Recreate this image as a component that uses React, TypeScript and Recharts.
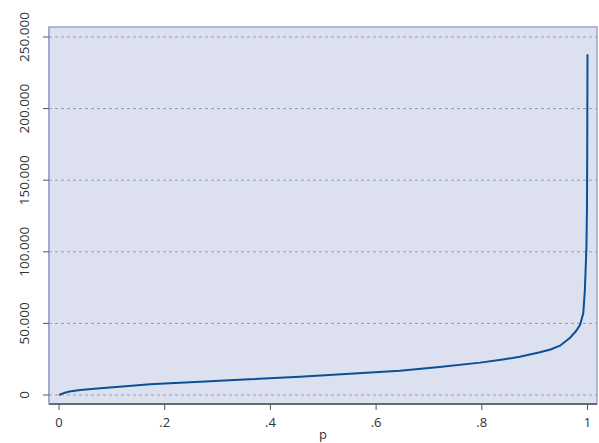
import React from 'react';
import {
  LineChart,
  Line,
  XAxis,
  YAxis,
  CartesianGrid,
  ReferenceArea,
} from 'recharts';

// Quantile curve: share of population (p) vs. income
const pValues = [
  0, 0.005, 0.011, 0.02, 0.04, 0.078, 0.12, 0.172, 0.267, 0.36, 0.456, 0.55,
  0.645, 0.72, 0.797, 0.84, 0.872, 0.91, 0.93, 0.948, 0.967, 0.978, 0.986,
  0.992, 0.995, 0.998, 0.999, 0.9995, 1,
];
const incomeValues = [
  0, 800, 1600, 2400, 3500, 4700, 6000, 7500, 9200, 11000, 12800, 14800,
  17000, 19500, 22600, 24800, 26700, 29800, 31800, 34400, 40000, 44500, 49000,
  57000, 73000, 103000, 130000, 170000, 238000,
];
const xTicks = [0, 0.2, 0.4, 0.6, 0.8, 1];
const yTicks = [0, 50000, 100000, 150000, 200000, 250000];

const data = pValues.map((p, i) => ({ p, income: incomeValues[i] }));

const X_DOMAIN: [number, number] = [-0.019, 1.018];
const Y_DOMAIN: [number, number] = [-6300, 257000];

const FONT = '"Open Sans", "DejaVu Sans", sans-serif';
const TEXT_COLOR = '#333';

const fmtX = (v: number) => (v === 0 ? '0' : v === 1 ? '1' : String(v).replace(/^0/, ''));
const fmtY = (v: number) => v.toLocaleString('de-DE');

// y labels are drawn rotated, reading bottom-to-top
const YTick = ({ y, payload }: any) => (
  <text
    x={29.5}
    y={y}
    transform={`rotate(-90, 29.5, ${y})`}
    textAnchor="middle"
    fontSize={13.5}
    fontFamily={FONT}
    fill={TEXT_COLOR}
  >
    {fmtY(payload.value)}
  </text>
);

// axis title sits right at the bottom edge of the chart
const XTitle = ({ viewBox }: any) => (
  <text
    x={viewBox.x + viewBox.width / 2}
    y={439}
    textAnchor="middle"
    fontSize={13}
    fontFamily={FONT}
    fill={TEXT_COLOR}
  >
    p
  </text>
);

export default function App() {
  return (
    <div style={{ position: 'absolute', left: 0, top: 0, background: '#fff' }}>
      <LineChart
        width={599}
        height={443}
        data={data}
        margin={{ top: 27, right: 2, bottom: 0, left: 0 }}
      >
        <CartesianGrid
          horizontal
          vertical={false}
          fill="#dde1ef"
          fillOpacity={1}
          stroke="#8e9bcc"
          strokeDasharray="3 3"
          horizontalValues={yTicks}
        />
        <ReferenceArea
          x1={X_DOMAIN[0]}
          x2={X_DOMAIN[1]}
          y1={Y_DOMAIN[0]}
          y2={Y_DOMAIN[1]}
          fill="none"
          stroke="#9aa7d2"
          strokeWidth={1.5}
          ifOverflow="visible"
        />
        <XAxis
          type="number"
          dataKey="p"
          domain={X_DOMAIN}
          ticks={xTicks}
          tickFormatter={fmtX}
          allowDataOverflow
          height={39}
          tickSize={6}
          tickMargin={8}
          axisLine={{ stroke: '#666a75', strokeWidth: 2 }}
          tickLine={{ stroke: '#555' }}
          tick={{ fill: TEXT_COLOR, fontSize: 13, fontFamily: FONT }}
          label={<XTitle />}
        />
        <YAxis
          type="number"
          domain={Y_DOMAIN}
          ticks={yTicks}
          allowDataOverflow
          width={49}
          tickSize={6}
          axisLine={{ stroke: '#9aa7d2', strokeWidth: 1.5 }}
          tickLine={{ stroke: '#555' }}
          tick={<YTick />}
        />
        <Line
          type="linear"
          dataKey="income"
          stroke="#0d4f95"
          strokeWidth={2}
          dot={false}
          isAnimationActive={false}
        />
      </LineChart>
    </div>
  );
}
